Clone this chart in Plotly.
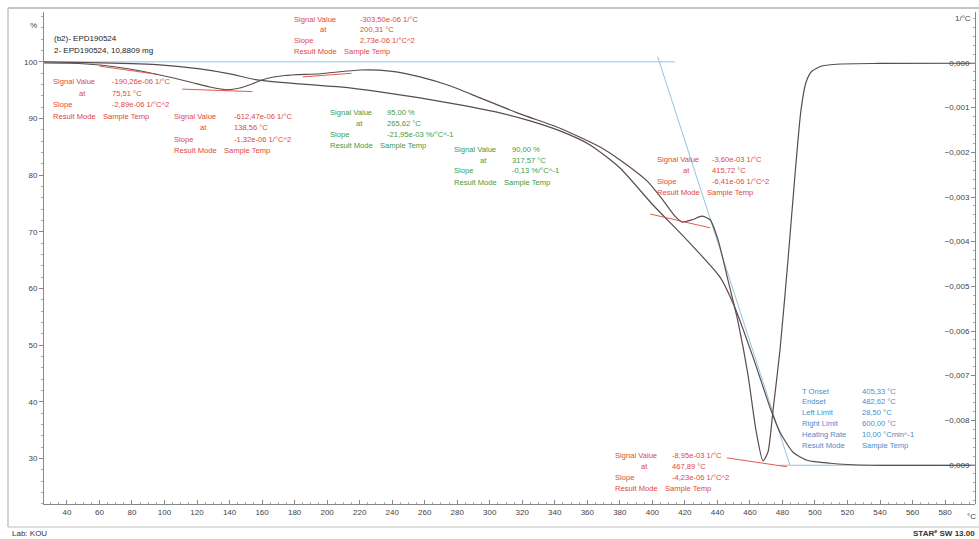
import plotly.graph_objects as go

FONT = "Liberation Sans"
RED = "#e0483c"
GREEN = "#3f9a3f"
BLUE = "#4a8ccc"
CURVE = "#5a4c4c"
CONSTR = "#93c4de"

# TGA curve (mass, %) vs sample temperature
tga_temp = [25.9, 60.3, 97.2, 121.8, 140.2, 156.9, 183.3, 207.9, 232.5, 257.1, 281.7,
            306.3, 324.8, 343.2, 361.7, 380.1, 400.4, 421.3, 441.6, 450.8, 461.9,
            472.3, 478.5, 486.5, 495.1, 509.3, 533.9, 598.4]
tga_mass = [100.0, 99.82, 99.47, 98.76, 97.88, 96.82, 96.11, 95.58, 94.70, 93.64, 92.40,
            90.99, 89.58, 87.81, 85.34, 81.27, 74.73, 68.55, 62.0, 56.6, 47.88,
            39.05, 34.63, 31.10, 29.68, 29.15, 28.80, 28.80]

# DTG curve (1/°C) vs sample temperature
dtg_temp = [25.9, 41.8, 60.3, 78.7, 97.2, 115.6, 127.9, 138.4, 146.4, 153.8, 161.8,
            174.1, 195.6, 220.2, 238.6, 257.1, 275.5, 294.0, 318.6, 343.2, 367.8,
            380.1, 396.7, 406.5, 413.9, 418.2, 424.4, 430.5, 435.5, 440.4, 446.5,
            452.7, 458.8, 463.7, 468.0, 471.1, 474.2, 478.5, 483.4, 487.7, 491.4,
            494.5, 498.2, 504.3, 515.4, 540.0, 598.4]
dtg_value = [0.0, -0.005e-3, -0.045e-3, -0.134e-3, -0.269e-3, -0.425e-3, -0.537e-3,
             -0.600e-3, -0.560e-3, -0.470e-3, -0.358e-3, -0.280e-3, -0.240e-3,
             -0.157e-3, -0.180e-3, -0.310e-3, -0.510e-3, -0.780e-3, -1.140e-3,
             -1.460e-3, -1.880e-3, -2.170e-3, -2.640e-3, -3.070e-3, -3.430e-3,
             -3.560e-3, -3.510e-3, -3.430e-3, -3.510e-3, -3.960e-3, -4.860e-3,
             -5.800e-3, -6.980e-3, -8.220e-3, -8.910e-3, -8.710e-3, -7.770e-3,
             -6.420e-3, -4.410e-3, -2.510e-3, -1.050e-3, -0.430e-3, -0.180e-3,
             -0.067e-3, -0.022e-3, -0.010e-3, -0.005e-3]

# red tangents on the DTG curve
tangent_temps = [[60.0, 95.0], [111.0, 154.0], [185.0, 215.0], [398.6, 435.5], [445.9, 482.8]]
tangent_values = [[-0.07e-3, -0.25e-3], [-0.585e-3, -0.64e-3], [-0.31e-3, -0.23e-3],
                  [-3.38e-3, -3.69e-3], [-8.84e-3, -9.04e-3]]

# blue onset construction on the TGA curve
base_top_temp = [25.9, 414.0]
base_top_mass = [100.0, 100.0]
tangent_on_temp = [403.3, 484.5]
tangent_on_mass = [100.9, 28.9]
base_bot_temp = [478.0, 598.4]
base_bot_mass = [28.8, 28.8]

x_ticks = list(range(40, 600, 20))
left_ticks = [30, 40, 50, 60, 70, 80, 90, 100]
right_ticks = [0.0, -0.001, -0.002, -0.003, -0.004, -0.005, -0.006, -0.007, -0.008, -0.009]

# result tables (label, value)
res_r1 = [("Signal Value", "-190,26e-06 1/°C"), ("at", "75,51 °C"),
          ("Slope", "-2,89e-06 1/°C^2"), ("Result Mode", "Sample Temp")]
res_r2 = [("Signal Value", "-612,47e-06 1/°C"), ("at", "138,56 °C"),
          ("Slope", "-1,32e-06 1/°C^2"), ("Result Mode", "Sample Temp")]
res_r3 = [("Signal Value", "-303,50e-06 1/°C"), ("at", "200,31 °C"),
          ("Slope", "2,73e-06 1/°C^2"), ("Result Mode", "Sample Temp")]
res_g1 = [("Signal Value", "95,00 %"), ("at", "265,62 °C"),
          ("Slope", "-21,95e-03 %/°C^-1"), ("Result Mode", "Sample Temp")]
res_g2 = [("Signal Value", "90,00 %"), ("at", "317,57 °C"),
          ("Slope", "-0,13 %/°C^-1"), ("Result Mode", "Sample Temp")]
res_r4 = [("Signal Value", "-3,60e-03 1/°C"), ("at", "415,72 °C"),
          ("Slope", "-6,41e-06 1/°C^2"), ("Result Mode", "Sample Temp")]
res_r5 = [("Signal Value", "-8,95e-03 1/°C"), ("at", "467,89 °C"),
          ("Slope", "-4,23e-06 1/°C^2"), ("Result Mode", "Sample Temp")]
res_b = [("T Onset", "405,33 °C"), ("Endset", "482,62 °C"), ("Left Limit", "28,50 °C"),
         ("Right Limit", "600,00 °C"), ("Heating Rate", "10,00 °Cmin^-1"),
         ("Result Mode", "Sample Temp")]

fig = go.Figure()

fig.add_scatter(x=base_top_temp, y=base_top_mass, mode="lines", line=dict(color=CONSTR, width=1))
fig.add_scatter(x=tangent_on_temp, y=tangent_on_mass, mode="lines", line=dict(color=CONSTR, width=1))
fig.add_scatter(x=base_bot_temp, y=base_bot_mass, mode="lines", line=dict(color=CONSTR, width=1.2))

fig.add_scatter(x=tga_temp, y=tga_mass, mode="lines",
                line=dict(color=CURVE, width=1.2, shape="spline", smoothing=0.6))
fig.add_scatter(x=dtg_temp, y=dtg_value, mode="lines", yaxis="y2",
                line=dict(color=CURVE, width=1.2, shape="spline", smoothing=0.6))
for tt, tv in zip(tangent_temps, tangent_values):
    fig.add_scatter(x=tt, y=tv, mode="lines", yaxis="y2", line=dict(color=RED, width=0.9))


def px(x):
    return (x - 44) / 931


def py(y):
    return (504 - y) / 492


def text_at(x, y, s, color="#333333", size=7.6, xanchor="left", yanchor="middle"):
    fig.add_annotation(x=px(x), y=py(y), xref="paper", yref="paper", text=s, showarrow=False,
                       xanchor=xanchor, yanchor=yanchor, align="left",
                       font=dict(family=FONT, size=size, color=color))


def block(rows, x, y0, dx, dy, color, sample_dx=50):
    for i, (lab, val) in enumerate(rows):
        y = y0 + i * dy
        lx = x + 26 if lab == "at" else x
        text_at(lx, y, lab, color)
        vx = x + sample_dx if val == "Sample Temp" else x + dx
        text_at(vx, y, val, color)


block(res_r1, 51, 81, 59, 12, RED)
block(res_r2, 172, 117, 60, 11, RED)
block(res_r3, 292, 19, 66, 10.7, RED)
block(res_g1, 328, 112, 57, 11.3, GREEN)
block(res_g2, 452, 149, 58, 11, GREEN)
block(res_r4, 655, 159, 55, 11.3, RED)
block(res_r5, 613, 455, 57, 11, RED)
block(res_b, 800, 391, 60, 10.9, BLUE, sample_dx=60)

text_at(52, 38, "(b2)- EPD190524", "#222222", size=8)
text_at(52, 50, "2- EPD190524, 10,8809 mg", "#222222", size=8)
text_at(33, 26, "%", "#444444", size=8, xanchor="center")
text_at(963, 18, "1/°C", "#444444", size=8, xanchor="center")
text_at(971, 516, "°C", "#444444", size=8, xanchor="center")
text_at(10, 533, "Lab: KOU", "#333333", size=8)
text_at(977, 533, "<b>STAR<sup>e</sup> SW 13.00</b>", "#333333", size=8, xanchor="right")

# frame of the report page
fig.add_shape(type="line", xref="paper", yref="paper", x0=px(8), x1=px(979), y0=py(8), y1=py(8),
              line=dict(color="#c4c4c4", width=2))
fig.add_shape(type="line", xref="paper", yref="paper", x0=px(8), x1=px(8), y0=py(8), y1=py(527),
              line=dict(color="#c4c4c4", width=1.5))
fig.add_shape(type="line", xref="paper", yref="paper", x0=px(8), x1=px(979), y0=py(527), y1=py(527),
              line=dict(color="#d4d4d4", width=1.5))

axis_font = dict(family=FONT, size=8, color="#444444")
fig.update_layout(
    width=979, height=539,
    margin=dict(l=44, r=4, t=12, b=35),
    paper_bgcolor="white", plot_bgcolor="white",
    showlegend=False,
    separators=",.",
    xaxis=dict(range=[25.9, 598.4], tickvals=x_ticks, showgrid=False, zeroline=False,
               showline=True, linecolor="#888888", linewidth=1, ticks="inside", ticklen=4,
               tickcolor="#888888", tickfont=axis_font,
               minor=dict(dtick=5, ticks="inside", ticklen=2, tickcolor="#aaaaaa")),
    yaxis=dict(range=[21.96, 108.8], tickvals=left_ticks, showgrid=False, zeroline=False,
               showline=True, linecolor="#888888", linewidth=1, ticks="outside", ticklen=4,
               tickcolor="#888888", tickfont=axis_font,
               minor=dict(dtick=2, ticks="outside", ticklen=2, tickcolor="#aaaaaa")),
    yaxis2=dict(range=[-9.873e-3, 1.142e-3], overlaying="y", side="left", anchor="free",
                position=1.0, tickvals=right_ticks, tickformat=".3f", showgrid=False,
                zeroline=False, showline=True, linecolor="#888888", linewidth=1,
                ticks="outside", ticklen=4, tickcolor="#888888", tickfont=axis_font,
                minor=dict(dtick=0.0002, ticks="outside", ticklen=2, tickcolor="#aaaaaa")),
)

fig.write_html("out.html", config={"displayModeBar": False},
               post_script="document.body.style.margin='0';")
